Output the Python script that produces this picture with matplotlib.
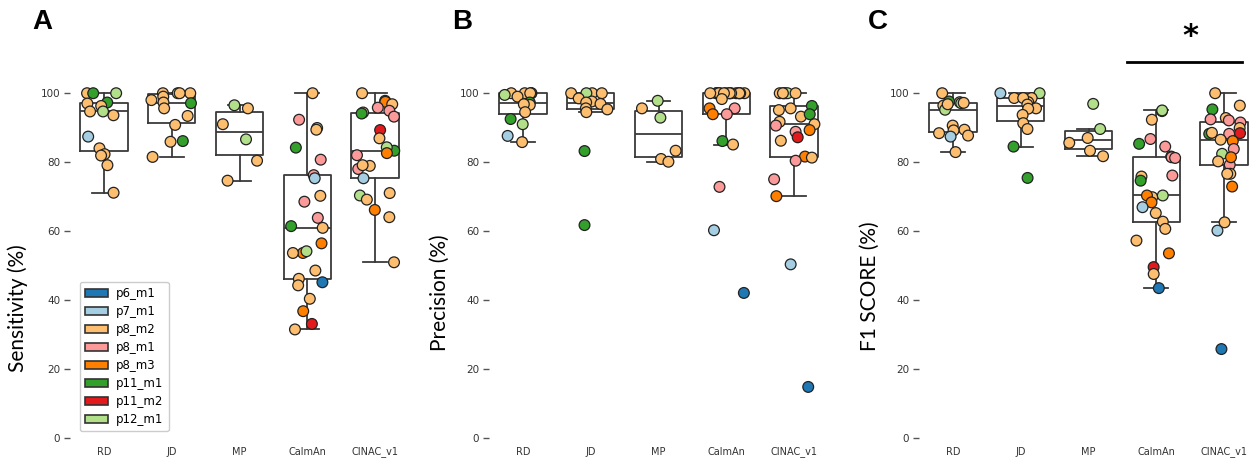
"""Sensitivity / precision / F1 box plots with per-session points."""

import matplotlib.pyplot as plt
import numpy as np
from matplotlib.patches import Patch

METHODS = ["RD", "JD", "MP", "CalmAn", "CINAC_v1"]
MICE = ["p6_m1", "p7_m1", "p8_m2", "p8_m1", "p8_m3", "p11_m1", "p11_m2", "p12_m1"]
MOUSE_COLORS = ["#1f78b4", "#a6cee3", "#fdbf6f", "#fb9a99",
                "#ff7f00", "#33a02c", "#e31a1c", "#b2df8a"]

# values in %, mouse index into MICE
sens_rd = [100, 100, 100, 97.3, 97, 96.3, 94.7, 94.7, 93.6, 87.4, 84, 82.3, 81.9, 79.1, 71.1]
sens_rd_mice = [2, 5, 7, 5, 2, 2, 7, 2, 2, 1, 2, 2, 2, 2, 2]
sens_jd = [100, 100, 100, 100, 99, 98, 97.1, 97.3, 95.6, 93.4, 90.8, 85.9, 86.1, 81.5]
sens_jd_mice = [2, 2, 7, 2, 2, 2, 5, 2, 2, 2, 2, 2, 5, 2]
sens_mp = [95.6, 96.5, 91, 86.6, 80.4, 74.6]
sens_mp_mice = [2, 7, 2, 7, 2, 2]
sens_calman = [100, 92.3, 89.9, 89.4, 84.2, 80.7, 76.2, 75.3, 70.2, 68.5, 63.8, 60.9, 61.4,
               56.4, 53.6, 54.1, 53.6, 48.5, 46.1, 45.1, 44.2, 40.3, 36.7, 33.0, 31.4]
sens_calman_mice = [2, 3, 7, 2, 5, 3, 3, 1, 2, 3, 3, 2, 5,
                    4, 4, 7, 2, 2, 2, 0, 2, 2, 4, 6, 2]
sens_cinac = [100, 97.8, 97.5, 95.8, 96.8, 94.4, 94.9, 94.1, 93.2, 89.3, 86.9, 83.3, 84.3,
              82.6, 82, 78.9, 78, 79.1, 75.3, 71, 70.3, 69.1, 66.1, 64, 50.9]
sens_cinac_mice = [2, 0, 4, 3, 2, 2, 3, 5, 3, 6, 2, 5, 7,
                   4, 3, 2, 3, 2, 1, 2, 7, 2, 4, 2, 2]

prec_rd = [100, 100, 100, 100, 99.5, 100, 99, 96.9, 97.3, 96.6, 96.8, 94.5, 92.5, 91, 87.6, 85.8]
prec_rd_mice = [2, 2, 2, 2, 7, 2, 2, 2, 5, 2, 2, 2, 5, 7, 1, 2]
prec_jd = [100, 100, 100, 100, 97.6, 98.5, 96.9, 97.3, 95.6, 95.3, 94.5, 83.2, 61.7]
prec_jd_mice = [2, 2, 7, 2, 2, 2, 2, 2, 2, 2, 2, 5, 5]
prec_mp = [97.8, 95.6, 92.9, 83.3, 80.9, 80.1]
prec_mp_mice = [7, 2, 7, 2, 2, 2]
prec_calman = [100, 100, 100, 100, 100, 100, 100, 100, 100, 100, 100, 100, 100, 100, 100,
               98.3, 95.6, 95.6, 93.9, 93.9, 86.1, 85.1, 72.8, 60.2, 42]
prec_calman_mice = [2, 2, 4, 2, 2, 2, 2, 2, 4, 2, 2, 2, 2, 2, 2,
                    2, 3, 4, 4, 3, 5, 2, 3, 1, 0]
prec_cinac = [100, 100, 100, 100, 100, 100, 96.3, 95.1, 95.6, 93.2, 93.9, 91, 91.7, 88.8,
              89.3, 90.6, 87.2, 86.2, 81.6, 81.3, 80.4, 75, 70.1, 50.3, 14.7]
prec_cinac_mice = [2, 2, 7, 7, 2, 2, 5, 2, 2, 2, 5, 2, 2, 3,
                   4, 3, 6, 2, 4, 2, 3, 3, 4, 1, 0]

f1_rd = [100, 97.4, 97.6, 96.4, 97.1, 95.2, 96.8, 97.2, 90.6, 89.4, 89.2, 88.4, 87.4, 87.7, 82.9]
f1_rd_mice = [2, 2, 5, 2, 7, 7, 2, 2, 2, 2, 2, 2, 1, 2, 2]
f1_jd = [100, 100, 98.6, 98.6, 97.4, 98.6, 96.7, 95.6, 95.5, 93.7, 91.3, 89.6, 84.5, 75.4]
f1_jd_mice = [7, 1, 2, 2, 2, 2, 2, 2, 2, 2, 2, 2, 5, 5]
f1_mp = [96.9, 89.6, 87, 85.6, 83.3, 81.7]
f1_mp_mice = [7, 7, 2, 2, 2, 2]
f1_calman = [94.8, 95, 92.3, 86.7, 84.5, 85.3, 81.6, 81.4, 81.2, 75.8, 74.6, 76.1, 69.8,
             70.3, 68.3, 70.3, 66.9, 65.2, 62.7, 60.6, 57.2, 53.5, 49.5, 47.5, 43.4]
f1_calman_mice = [2, 7, 2, 3, 3, 5, 2, 3, 3, 2, 5, 3, 2,
                  4, 4, 7, 1, 2, 2, 2, 2, 4, 6, 2, 0]
f1_cinac = [100, 96.4, 95.3, 92.8, 92.4, 92.1, 91.5, 89.9, 88.2, 88.2, 88.4, 88.5, 86.5,
            86.1, 83.8, 82.4, 79.2, 81.4, 80.2, 76.6, 76.6, 72.9, 62.5, 60.1, 25.7]
f1_cinac_mice = [2, 2, 5, 2, 3, 3, 3, 2, 5, 3, 6, 2, 2,
                 4, 3, 7, 3, 4, 2, 2, 2, 4, 2, 1, 0]

PANELS = [
    ("A", "Sensitivity (%)",
     [sens_rd, sens_jd, sens_mp, sens_calman, sens_cinac],
     [sens_rd_mice, sens_jd_mice, sens_mp_mice, sens_calman_mice, sens_cinac_mice]),
    ("B", "Precision (%)",
     [prec_rd, prec_jd, prec_mp, prec_calman, prec_cinac],
     [prec_rd_mice, prec_jd_mice, prec_mp_mice, prec_calman_mice, prec_cinac_mice]),
    ("C", "F1 SCORE (%)",
     [f1_rd, f1_jd, f1_mp, f1_calman, f1_cinac],
     [f1_rd_mice, f1_jd_mice, f1_mp_mice, f1_calman_mice, f1_cinac_mice]),
]

W, H = 1259, 467
fig = plt.figure(figsize=(W / 100, H / 100), dpi=100)

lefts = [70, 489, 919]
ax_w, ax_bottom, ax_h = 339, 26, 365
label_x = [28, 450, 880]
label_y = [308, 293, 286]
letter_x = [42, 462, 878]

rng = np.random.default_rng(3)
line_col = "#3a3a3a"

for i, (letter, ylabel, groups, mice) in enumerate(PANELS):
    ax = fig.add_axes([lefts[i] / W, ax_bottom / H, ax_w / W, ax_h / H])
    pos = np.arange(len(METHODS))
    ax.boxplot(groups, positions=pos, widths=0.7, showfliers=False, whis=1.5,
               capwidths=0.35,
               boxprops=dict(color=line_col, linewidth=1.3),
               whiskerprops=dict(color=line_col, linewidth=1.3),
               capprops=dict(color=line_col, linewidth=1.3),
               medianprops=dict(color=line_col, linewidth=1.3))
    for p, vals, ms in zip(pos, groups, mice):
        xs = p + rng.uniform(-0.3, 0.3, len(vals))
        cols = [MOUSE_COLORS[m] for m in ms]
        ax.scatter(xs, vals, s=60, c=cols, edgecolors="#222222", linewidths=0.9, zorder=3)

    ax.set_xlim(-0.5, 4.5)
    ax.set_ylim(-1, 105)
    ax.set_yticks([0, 20, 40, 60, 80, 100])
    ax.set_xticks(pos)
    ax.set_xticklabels(METHODS)
    for s in ax.spines.values():
        s.set_visible(False)
    ax.tick_params(axis="y", length=4, width=1, color="#555555", labelsize=7.5,
                   labelcolor="#333333", pad=3)
    ax.tick_params(axis="x", length=0, labelsize=7, labelcolor="#333333", pad=4)
    ax.set_ylabel(ylabel, fontsize=15, family="Lato")
    ax.yaxis.set_label_coords((label_x[i] - lefts[i]) / ax_w, (H - label_y[i] - ax_bottom) / ax_h)
    fig.text(letter_x[i] / W, 1 - 22 / H, letter, fontsize=20, fontweight="bold",
             family="Liberation Sans", ha="center", va="center")

    if letter == "A":
        handles = [Patch(facecolor=c, edgecolor="#333333", linewidth=1.2, label=m)
                   for m, c in zip(MICE, MOUSE_COLORS)]
        ax.legend(handles=handles, loc="lower left", bbox_to_anchor=(0.012, 0.01),
                  fontsize=8.5, handlelength=1.9, handleheight=0.7, labelspacing=0.42,
                  handletextpad=0.7, borderpad=0.45, framealpha=1, edgecolor="#cccccc",
                  fancybox=True)
    if letter == "C":
        ax.plot([2.57, 4.27], [109.2, 109.2], color="black", linewidth=2, clip_on=False)
        ax.text(3.5, 116.5, "*", fontsize=22, fontweight="bold", ha="center", va="center")

fig.savefig("out.png", dpi=100)
